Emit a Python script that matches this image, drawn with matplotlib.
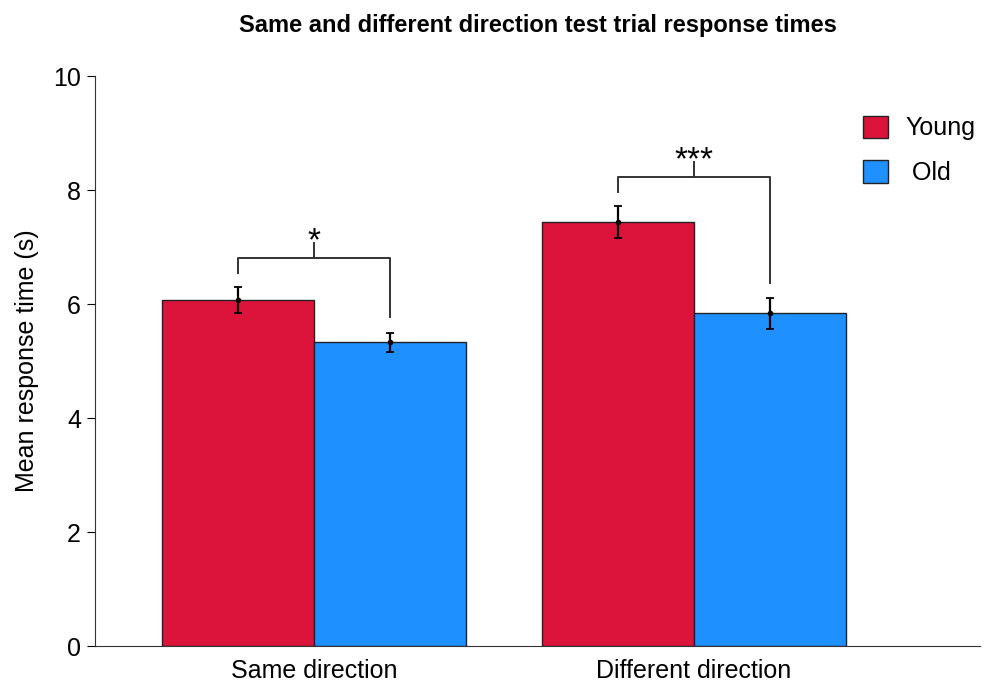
import matplotlib.pyplot as plt
import numpy as np

plt.rcParams['font.family'] = ['Liberation Sans', 'DejaVu Sans']

groups = ["Same direction", "Different direction"]
young_mean = [6.07, 7.44]
young_err = [0.23, 0.28]
old_mean = [5.33, 5.84]
old_err = [0.17, 0.27]
stars = ["*", "***"]
# bracket heights: horizontal line, left leg end, right leg end
bracket_y = [6.81, 8.23]
bracket_left = [6.55, 7.96]
bracket_right = [5.77, 6.37]

x = np.arange(len(groups))
w = 0.4

fig = plt.figure(figsize=(9.92, 6.82), dpi=100)
ax = fig.add_axes([95 / 992, 36 / 682, 885 / 992, 570 / 682])

ax.bar(x - w / 2, young_mean, w, color='crimson', edgecolor='#222222', linewidth=1, label='Young')
ax.bar(x + w / 2, old_mean, w, color='dodgerblue', edgecolor='#222222', linewidth=1, label=' Old')
ax.errorbar(x - w / 2, young_mean, yerr=young_err, fmt='o', ms=3, color='black',
            capsize=3, elinewidth=1.6, capthick=1.3)
ax.errorbar(x + w / 2, old_mean, yerr=old_err, fmt='o', ms=3, color='black',
            capsize=3, elinewidth=1.6, capthick=1.3)

for i in range(len(groups)):
    xl, xr = x[i] - w / 2, x[i] + w / 2
    ax.plot([xl, xl, xr, xr], [bracket_left[i], bracket_y[i], bracket_y[i], bracket_right[i]],
            color='#333333', lw=1.4)
    ax.plot([x[i], x[i]], [bracket_y[i], bracket_y[i] + 0.26], color='#333333', lw=1.4)
    ax.text(x[i], bracket_y[i] + 0.13, stars[i], ha='center', va='baseline', fontsize=24)

ax.set_xlim(-0.576, 1.753)
ax.set_ylim(0, 10)
ax.set_yticks([0, 2, 4, 6, 8, 10])
ax.set_xticks(x)
ax.set_xticklabels(groups, fontsize=18)
ax.tick_params(axis='x', length=0, pad=9)
ax.tick_params(axis='y', labelsize=18, length=6, direction='out', pad=4)
ax.spines['top'].set_visible(False)
ax.spines['right'].set_visible(False)
ax.spines['left'].set_color('#333333')
ax.spines['bottom'].set_color('#333333')
ax.set_ylabel('Mean response time (s)', fontsize=18, labelpad=10)
ax.set_title('Same and different direction test trial response times', fontsize=17,
             fontweight='bold', pad=32)

ax.legend(loc='upper right', bbox_to_anchor=(1.02, 0.97), frameon=False, fontsize=18,
          handlelength=1.0, handleheight=1.0, labelspacing=0.8, handletextpad=0.7)

fig.savefig('out.png', dpi=100)
